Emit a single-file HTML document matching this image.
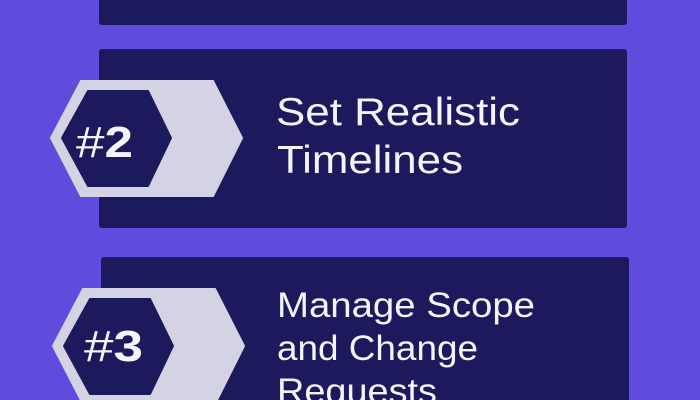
<!DOCTYPE html>
<html><head><style>
html,body{margin:0;padding:0;width:700px;height:400px;overflow:hidden;background:#5f4cdc;}
svg{display:block}
</style></head><body>
<svg width="700" height="400" viewBox="0 0 700 400" xmlns="http://www.w3.org/2000/svg">
<rect width="700" height="400" fill="#5f4cdc"/>
<rect x="99" y="-10" width="528" height="35" rx="3" fill="#1a1a5c"/>
<rect x="99" y="49" width="528" height="179" rx="3" fill="#1a1a5c"/>
<rect x="101" y="257" width="528" height="160" rx="3" fill="#1a1a5c"/>
<polygon points="51,138 81,81 213,81 242,138 213,196 81,196" fill="#d4d3e4" stroke="#d4d3e4" stroke-width="2" stroke-linejoin="round"/>
<polygon points="62,138 88,91 148,91 171,138 148,186 88,186" fill="#1a1a5c" stroke="#1a1a5c" stroke-width="2" stroke-linejoin="round"/>
<polygon points="53,346 83,289 215,289 244,346 215,404 83,404" fill="#d4d3e4" stroke="#d4d3e4" stroke-width="2" stroke-linejoin="round"/>
<polygon points="64,346 90,299 150,299 173,346 150,394 90,394" fill="#1a1a5c" stroke="#1a1a5c" stroke-width="2" stroke-linejoin="round"/>
<g font-family="Liberation Sans, sans-serif" fill="#f4f4fa">
<text x="76" y="157" font-size="44" textLength="57" lengthAdjust="spacingAndGlyphs"><tspan font-weight="normal">#</tspan><tspan font-weight="bold">2</tspan></text>
<text x="84" y="361" font-size="44" textLength="59" lengthAdjust="spacingAndGlyphs"><tspan font-weight="normal">#</tspan><tspan font-weight="bold">3</tspan></text>
<text x="276" y="125" font-size="39" textLength="244" lengthAdjust="spacingAndGlyphs">Set Realistic</text>
<text x="277" y="173" font-size="39" textLength="186" lengthAdjust="spacingAndGlyphs">Timelines</text>
<text x="277" y="317" font-size="35" textLength="258" lengthAdjust="spacingAndGlyphs">Manage Scope</text>
<text x="277" y="360" font-size="35" textLength="201" lengthAdjust="spacingAndGlyphs">and Change</text>
<text x="277" y="403" font-size="35" textLength="160" lengthAdjust="spacingAndGlyphs">Requests</text>
</g>
</svg>
</body></html>
